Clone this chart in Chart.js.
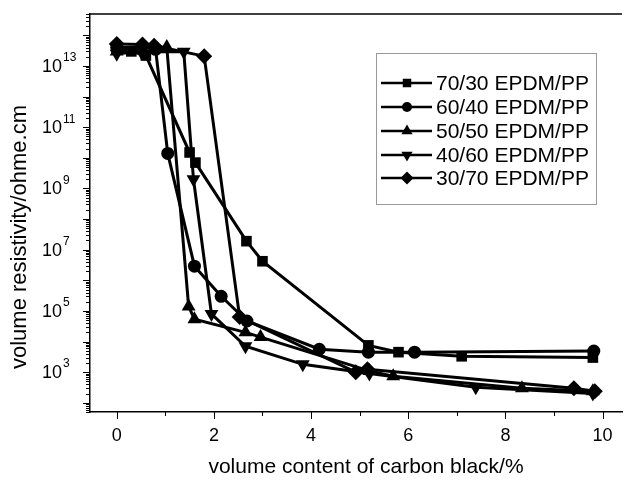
<!DOCTYPE html>
<html>
<head>
<meta charset="utf-8">
<script src="https://cdn.jsdelivr.net/npm/chart.js@4/dist/chart.umd.min.js"></script>
<style>
  html, body { margin: 0; padding: 0; background: #fff; }
  #wrap { width: 630px; height: 480px; }
</style>
</head>
<body>
<div id="wrap"><canvas id="chart" width="630" height="480"></canvas></div>
<script>
// --- data ---
const seriesLabels = ['70/30 EPDM/PP', '60/40 EPDM/PP', '50/50 EPDM/PP', '40/60 EPDM/PP', '30/70 EPDM/PP'];

const x7030 = [0, 0.3, 0.6, 1.5, 1.62, 2.67, 3.0, 5.18, 5.8, 7.1, 9.8];
const y7030 = [3.5e13, 3e13, 2.2e13, 1.5e10, 7e9, 1.9e7, 4.2e6, 7.5e3, 4.5e3, 3.3e3, 3e3];

const x6040 = [0, 0.5, 0.8, 1.05, 1.6, 2.15, 2.68, 4.17, 5.18, 6.13, 9.82];
const y6040 = [4e13, 4e13, 3.5e13, 1.4e10, 2.9e6, 3e5, 4.7e4, 5.6e3, 4.5e3, 4.5e3, 4.9e3];

const x5050 = [0, 0.5, 1.03, 1.48, 1.6, 2.65, 2.96, 5.2, 5.69, 8.34, 9.8];
const y5050 = [3e13, 4e13, 4.2e13, 1.4e5, 5.4e4, 2e4, 1.4e4, 1.1e3, 7.4e2, 3e2, 2.4e2];

const x4060 = [0, 0.5, 1.38, 1.58, 1.95, 2.65, 3.83, 5.2, 7.39, 9.8];
const y4060 = [2.5e13, 3e13, 2.9e13, 2e9, 8e4, 7e3, 1.8e3, 9e2, 3.2e2, 2e2];

const x3070 = [0, 0.53, 0.77, 1.8, 2.53, 4.92, 5.16, 9.41, 9.84];
const y3070 = [5.2e13, 5e13, 4.6e13, 2.1e13, 6.3e4, 1e3, 1.25e3, 3e2, 2.4e2];

const xTicks = [0, 2, 4, 6, 8, 10];
const yTickExps = [3, 5, 7, 9, 11, 13];

const FONT = '"Liberation Sans", Arial, sans-serif';

const markers = [
  { pointStyle: 'rect', radius: 7.5, rotation: 0 },
  { pointStyle: 'circle', radius: 6.5, rotation: 0 },
  { pointStyle: 'triangle', radius: 8, rotation: 0 },
  { pointStyle: 'triangle', radius: 8, rotation: 180 },
  { pointStyle: 'rectRot', radius: 8, rotation: 0 },
];

const toPoints = (xs, ys) => xs.map((v, i) => ({ x: v, y: ys[i] }));
const allData = [
  toPoints(x7030, y7030),
  toPoints(x6040, y6040),
  toPoints(x5050, y5050),
  toPoints(x4060, y4060),
  toPoints(x3070, y3070),
];

const datasets = allData.map((pts, i) => ({
  label: seriesLabels[i],
  data: pts,
  showLine: true,
  borderColor: '#000',
  backgroundColor: '#000',
  borderWidth: 3,
  pointStyle: markers[i].pointStyle,
  pointRadius: markers[i].radius,
  pointRotation: markers[i].rotation,
  pointBorderWidth: 0,
  pointBackgroundColor: '#000',
}));

// ticks, tick labels, titles, top frame and legend
const axisDecor = {
  id: 'axisDecor',
  afterDraw(chart) {
    const { ctx, chartArea: a, scales: { x, y } } = chart;
    ctx.save();
    ctx.strokeStyle = '#000';
    ctx.fillStyle = '#000';
    ctx.lineWidth = 1.5;

    ctx.beginPath();
    ctx.moveTo(a.left, a.top);
    ctx.lineTo(a.right, a.top);
    ctx.stroke();

    ctx.lineWidth = 1;
    for (let v = 0; v <= 10; v++) {
      const px = Math.round(x.getPixelForValue(v)) + 0.5;
      const len = v % 2 === 0 ? 7 : 4;
      ctx.beginPath();
      ctx.moveTo(px, a.bottom);
      ctx.lineTo(px, a.bottom + len);
      ctx.stroke();
    }
    for (let e = 1; e <= 14; e++) {
      for (let m = 1; m <= 9; m++) {
        const v = m * Math.pow(10, e);
        if (v < y.min || v > y.max) continue;
        const py = Math.round(y.getPixelForValue(v)) + 0.5;
        const len = m === 1 ? 7 : 4;
        ctx.beginPath();
        ctx.moveTo(a.left, py);
        ctx.lineTo(a.left - len, py);
        ctx.stroke();
      }
    }

    ctx.font = '18px ' + FONT;
    ctx.textAlign = 'center';
    ctx.textBaseline = 'middle';
    xTicks.forEach(v => ctx.fillText(String(v), x.getPixelForValue(v), a.bottom + 24));

    yTickExps.forEach(e => {
      const py = y.getPixelForValue(Math.pow(10, e));
      ctx.font = '18px ' + FONT;
      ctx.textAlign = 'right';
      ctx.textBaseline = 'middle';
      ctx.fillText('10', 62, py + 1);
      ctx.font = '12px ' + FONT;
      ctx.textAlign = 'left';
      ctx.fillText(String(e), 63, py - 8);
    });

    ctx.font = '21px ' + FONT;
    ctx.textAlign = 'center';
    ctx.textBaseline = 'middle';
    ctx.fillText('volume content of carbon black/%', 366, 467);
    ctx.save();
    ctx.font = '22px ' + FONT;
    ctx.translate(20, 237);
    ctx.rotate(-Math.PI / 2);
    ctx.fillText('volume resistivity/ohme.cm', 0, 0);
    ctx.restore();

    // legend
    ctx.strokeStyle = '#999';
    ctx.lineWidth = 1;
    ctx.strokeRect(376.5, 53.5, 220, 151);
    const rowY = [83, 107, 131, 155, 178];
    ctx.font = '21px ' + FONT;
    ctx.textAlign = 'left';
    seriesLabels.forEach((lab, i) => {
      const yy = rowY[i];
      ctx.strokeStyle = '#000';
      ctx.lineWidth = 2.5;
      ctx.beginPath();
      ctx.moveTo(381, yy);
      ctx.lineTo(432, yy);
      ctx.stroke();
      ctx.fillStyle = '#000';
      Chart.helpers.drawPoint(ctx, {
        pointStyle: markers[i].pointStyle,
        radius: markers[i].radius - 1.5,
        rotation: markers[i].rotation,
        borderWidth: 0,
      }, 407, yy);
      ctx.fillText(lab, 436, yy + 1);
    });
    ctx.restore();
  },
};

new Chart(document.getElementById('chart'), {
  type: 'scatter',
  data: { datasets },
  options: {
    responsive: false,
    devicePixelRatio: 1,
    animation: false,
    layout: { padding: { left: 90, top: 14, right: 0, bottom: 68 } },
    plugins: { legend: { display: false }, tooltip: { enabled: false } },
    scales: {
      x: {
        type: 'linear', min: -0.55, max: 10.4,
        grid: { display: false, drawTicks: false, tickLength: 0 },
        border: { display: true, color: '#000', width: 1.5 },
        ticks: { display: false },
      },
      y: {
        type: 'logarithmic', min: 50, max: 5e14,
        grid: { display: false, drawTicks: false, tickLength: 0 },
        border: { display: true, color: '#000', width: 1.5 },
        ticks: { display: false },
      },
    },
  },
  plugins: [axisDecor],
});
</script>
</body>
</html>
